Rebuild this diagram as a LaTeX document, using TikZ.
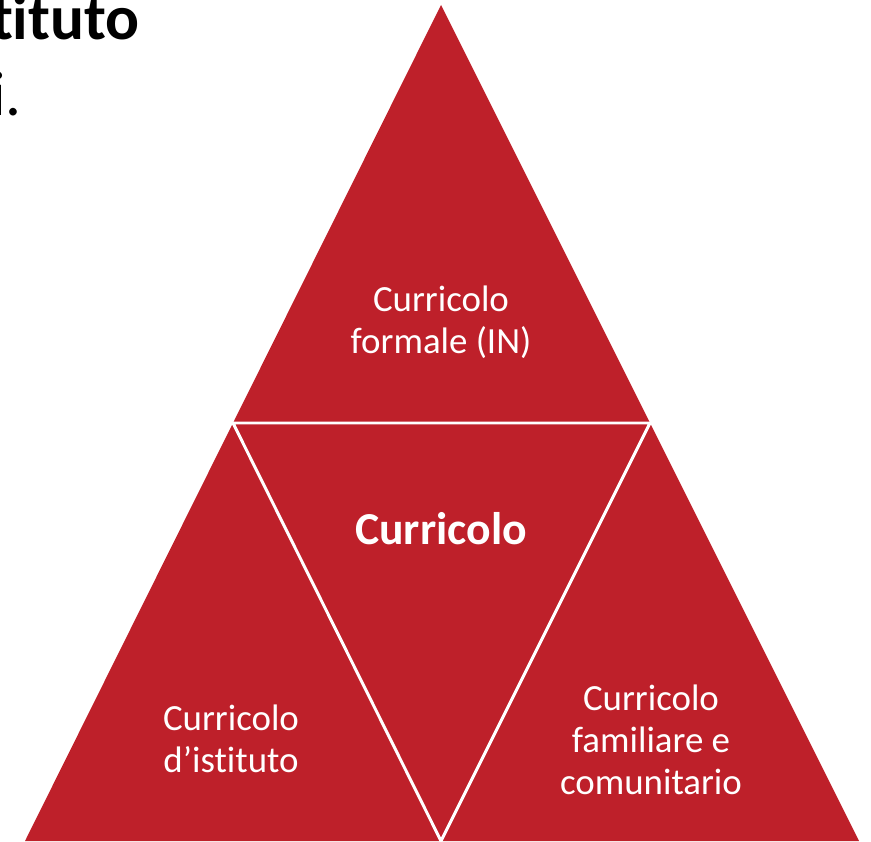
\documentclass[tikz,border=0pt]{standalone}
\usepackage{fontspec}
\setmainfont{Carlito}[Ligatures=NoCommon]
\usepackage{tikz}
\definecolor{rosso}{RGB}{190,32,42}

\begin{document}
\begin{tikzpicture}[x=0.02cm,y=-0.02cm,
    voce/.style={text=white,align=center,font=\fontsize{21}{23.8}\selectfont},
    voceforte/.style={text=white,font=\bfseries\fontsize{26}{30}\selectfont}]
    \useasboundingbox (0,0) rectangle (871,841);
    \fill[rosso] (441,5) -- (25,841) -- (859,841) -- cycle;
    % the white cuts split the big triangle into four
    \draw[white,line width=1.7pt] (233,423) -- (650,423) -- (441,841) -- cycle;
    \node[voce] (formale) at (441,322) {Curricolo\\formale (IN)};
    \node[voceforte,anchor=base] (centro) at (441,544) {Curricolo};
    \node[voce] (istituto) at (231,739) {Curricolo\\d’istituto};
    \node[voce] (familiare) at (651,740) {Curricolo\\familiare e\\comunitario};
    \node[anchor=base east,inner sep=0pt,font=\bfseries\fontsize{36}{42}\selectfont] (titolo) at (140,40) {tituto};
    \node[anchor=base east,inner sep=0pt,font=\fontsize{36}{44}\selectfont] (punto) at (22,116) {i.};
\end{tikzpicture}
\end{document}
